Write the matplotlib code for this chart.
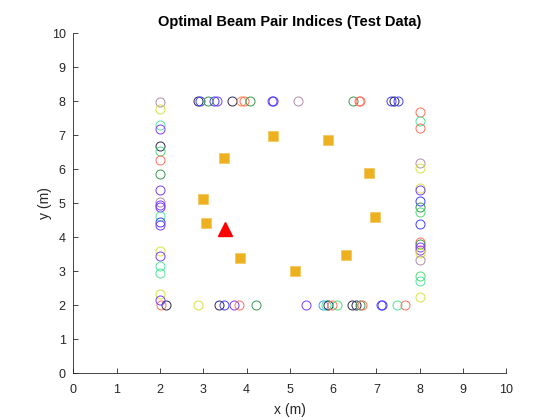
import matplotlib
matplotlib.use("Agg")
import matplotlib.pyplot as plt

plt.rcParams['font.family'] = ['Liberation Sans', 'DejaVu Sans']

# beam pair colours (by index group)
palette = {
    'mauve': '#b08cb0', 'yg': '#d4e63c', 'mint': '#50e6a0', 'purple': '#7a3cff',
    'blue': '#4040ff', 'navy': '#302850', 'salmon': '#ff6f5a', 'green': '#3a9a50',
    'lblue': '#3c9cff', 'lgreen': '#50dc78', 'orange': '#ff8a40', 'magenta': '#a040e0',
}

# receiver positions on the top edge (y = 8)
top_x = [2.87, 2.93, 3.12, 3.25, 3.31, 3.67, 3.87, 3.94, 4.07, 4.60, 4.62, 5.19,
         6.46, 6.59, 6.63, 7.34, 7.41, 7.49]
top_c = ['navy', 'blue', 'green', 'blue', 'purple', 'navy', 'orange', 'salmon', 'green',
         'purple', 'blue', 'mauve', 'green', 'salmon', 'salmon', 'blue', 'navy', 'blue']

# bottom edge (y = 2)
bot_x = [2.02, 2.14, 2.89, 3.37, 3.48, 3.72, 3.82, 4.22, 5.37, 5.76, 5.84, 5.89, 5.97,
         6.09, 6.43, 6.53, 6.63, 6.67, 7.10, 7.14, 7.47, 7.67]
bot_c = ['salmon', 'navy', 'yg', 'navy', 'blue', 'purple', 'salmon', 'green', 'purple',
         'lblue', 'mint', 'navy', 'salmon', 'lgreen', 'navy', 'navy', 'green', 'salmon',
         'purple', 'blue', 'mint', 'salmon']

# left edge (x = 2)
left_y = [7.97, 7.78, 7.31, 7.17, 6.67, 6.55, 6.26, 5.86, 5.38, 5.04, 4.96, 4.89, 4.64,
          4.45, 4.35, 3.59, 3.45, 3.16, 2.95, 2.32, 2.15]
left_c = ['mauve', 'yg', 'mint', 'purple', 'navy', 'lgreen', 'salmon', 'green', 'purple',
          'mauve', 'purple', 'purple', 'mint', 'blue', 'purple', 'yg', 'purple', 'mint',
          'mint', 'yg', 'purple']

# right edge (x = 8)
right_y = [7.68, 7.43, 7.22, 6.18, 6.03, 5.45, 5.40, 5.06, 4.89, 4.74, 4.40, 3.86, 3.79,
           3.71, 3.64, 3.54, 3.33, 2.85, 2.71, 2.25]
right_c = ['salmon', 'mint', 'salmon', 'mauve', 'yg', 'yg', 'purple', 'blue', 'green',
           'lgreen', 'blue', 'salmon', 'green', 'purple', 'magenta', 'yg', 'mauve',
           'lgreen', 'mint', 'yg']

# transmitters (squares) and reference point (triangle)
tx_x = [4.62, 5.89, 3.49, 6.82, 3.00, 3.07, 6.96, 3.86, 6.29, 5.11]
tx_y = [6.99, 6.85, 6.34, 5.90, 5.13, 4.43, 4.61, 3.38, 3.47, 3.00]
ref_x = [3.50]
ref_y = [4.25]

fig = plt.figure(figsize=(5.6, 4.2), dpi=100)
ax = fig.add_axes([0.131, 0.111, 0.773, 0.81])

pts = ([(x, 8.0, c) for x, c in zip(top_x, top_c)] +
       [(x, 2.0, c) for x, c in zip(bot_x, bot_c)] +
       [(2.0, y, c) for y, c in zip(left_y, left_c)] +
       [(8.0, y, c) for y, c in zip(right_y, right_c)])
for x, y, c in pts:
    ax.plot(x, y, 'o', mfc='none', mec=palette[c], ms=6.5, mew=0.7)

ax.plot(tx_x, tx_y, 's', color='#edb120', mec='#f3c860', ms=7.5, mew=0.6, ls='none')
ax.plot(ref_x, ref_y, '^', color='#ff0000', ms=10, ls='none')

ax.set_xlim(0, 10)
ax.set_ylim(0, 10)
ax.set_xticks(range(11))
ax.set_yticks(range(11))
ax.spines['top'].set_visible(False)
ax.spines['right'].set_visible(False)
for s in ('left', 'bottom'):
    ax.spines[s].set_linewidth(0.6)
    ax.spines[s].set_color('#262626')
ax.tick_params(direction='in', length=3.5, width=0.6, labelsize=9, colors='#262626')
ax.tick_params(axis='x', pad=8)
ax.tick_params(axis='y', pad=5.5)
ax.set_xlabel('x (m)', fontsize=10, color='#262626', labelpad=4.5)
ax.set_ylabel('y (m)', fontsize=10, color='#262626', labelpad=0)
ax.set_title('Optimal Beam Pair Indices (Test Data)', fontsize=10.5, fontweight='bold', pad=5)

fig.savefig('out.png', dpi=100)
